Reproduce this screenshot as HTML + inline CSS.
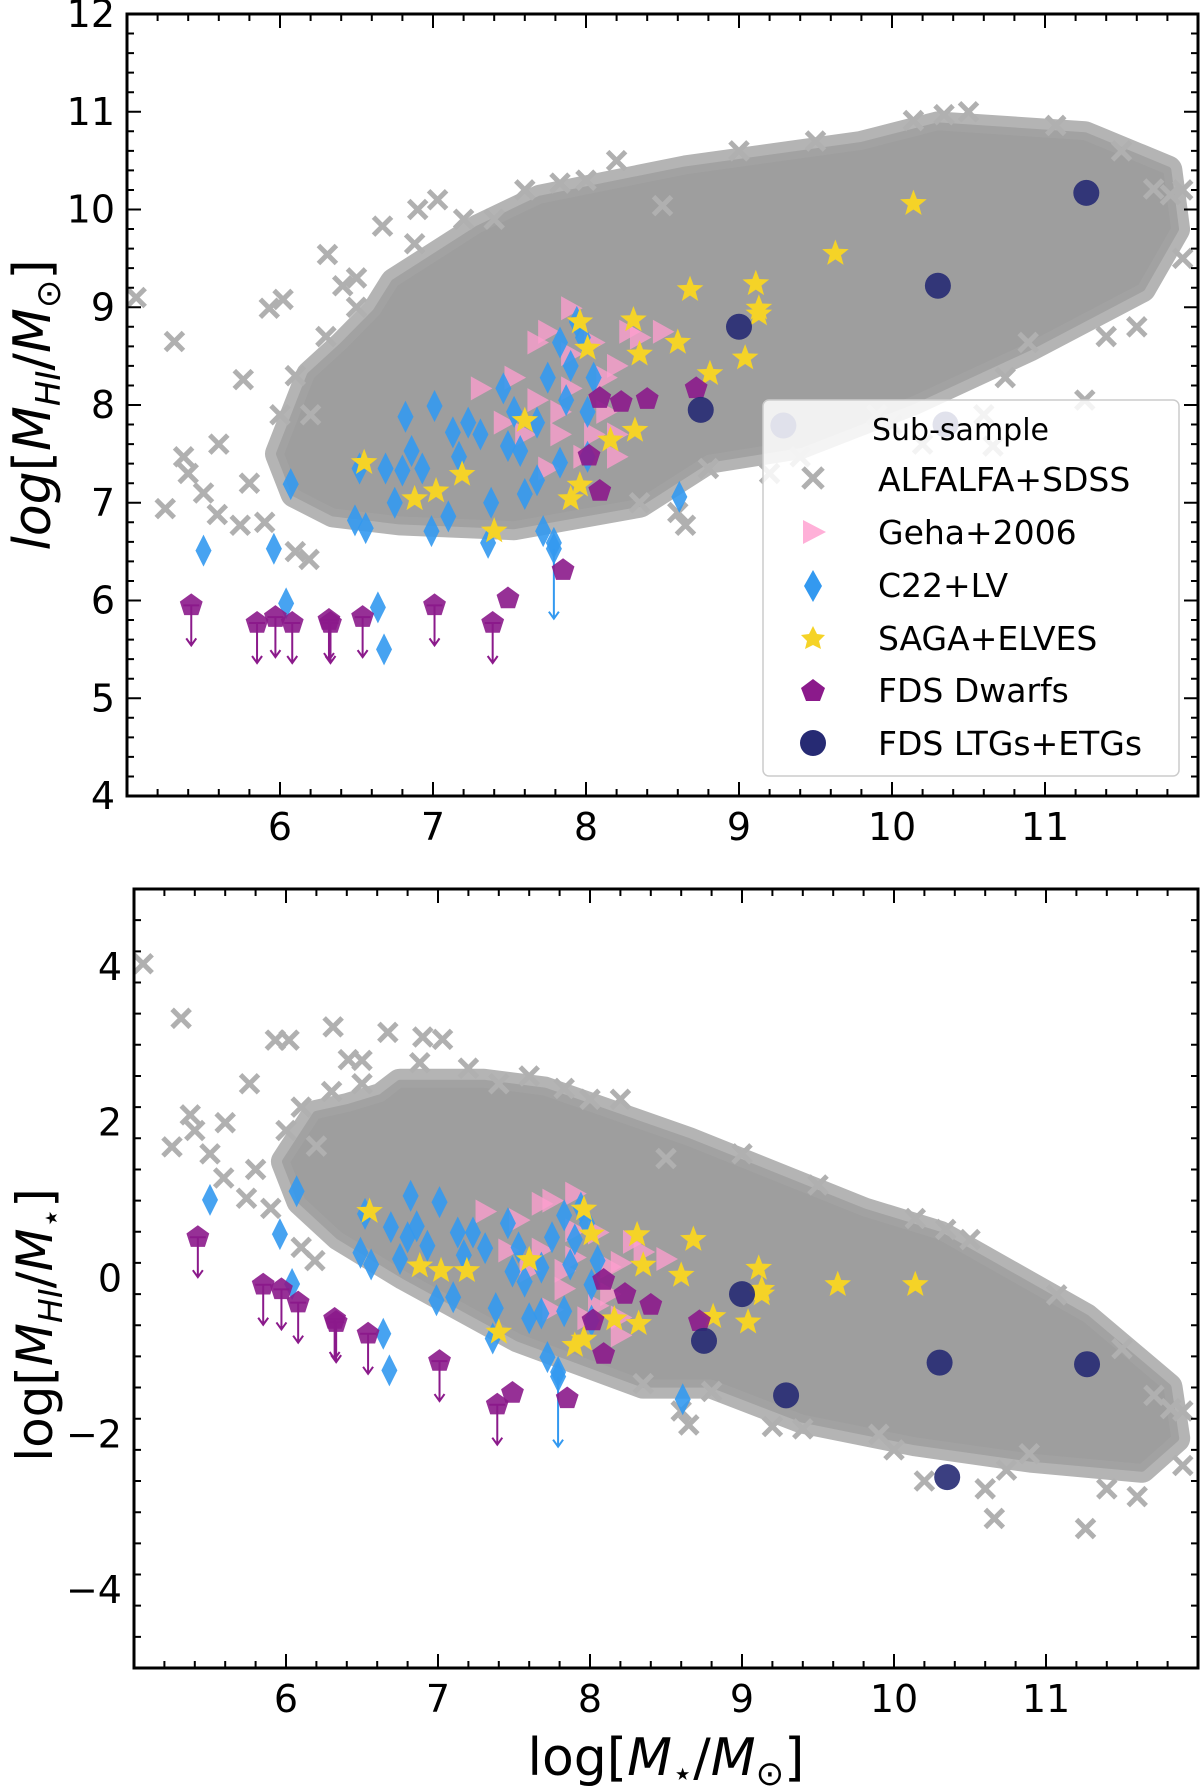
<!DOCTYPE html>
<html><head><meta charset="utf-8">
<style>
html,body{margin:0;padding:0;background:#fff;}
svg{display:block;font-family:"DejaVu Sans","Liberation Sans",sans-serif;}
</style></head>
<body>
<svg id="fig" width="1200" height="1790" viewBox="0 0 1200 1790" xmlns="http://www.w3.org/2000/svg">
<g id="top"></g>
<g id="bot"></g>
</svg>
<script>
// ===== data (top panel: log M* , log MHI). Bottom panel uses log MHI - log M* =====
const cloudX = [6.0,6.2,6.41,6.63,6.75,7.3,7.7,8.65,9.8,10.3,11.26,11.8,11.85,11.63,10.9,10.14,9.4,8.8,8.35,7.53,6.78,6.35,6.1];
const cloudY = [7.5,8.3,8.6,8.95,9.25,9.8,10.1,10.4,10.65,10.85,10.75,10.4,9.8,9.2,8.6,8.05,7.6,7.45,7.0,6.77,6.82,6.9,7.1];
const grayX = [5.06,5.31,5.76,5.93,6.02,6.31,6.67,7.03,6.88,7.83,8.5,10.14,10.34,11.71,11.82,11.07,5.25,5.37,5.59,5.74,6.19,6.41,8.35,8.8,9.4,8.65,10.89,11.26,10.74,10.66,11.4,11.9,10.6,10.2,9.9,6.2,6.5,7.2,7.6,8.2,5.4,5.6,5.8,5.9,6.0,6.1,6.3,6.5,6.1,5.5,6.9,7.4,8.0,9.0,9.5,10.5,11.5,10.0,9.2,8.6,11.9,11.6];
const grayY = [9.1,8.65,8.26,8.99,9.08,9.54,9.83,10.1,9.65,10.27,10.04,10.91,10.97,10.21,10.15,10.86,6.94,7.47,6.88,6.77,6.42,9.22,7.0,7.35,7.47,6.77,8.64,8.05,8.28,7.58,8.7,10.2,7.9,7.6,7.9,7.9,9.3,9.9,10.2,10.5,7.3,7.6,7.2,6.8,7.9,8.3,8.7,9.0,6.5,7.1,10.0,9.9,10.3,10.6,10.7,11.0,10.6,7.8,7.3,6.9,9.5,8.8];
const gehaX = [7.31,7.53,7.68,7.75,7.9,8.05,8.2,8.28,8.35,8.5,8.13,8.2,7.98,7.83,7.68,7.9,7.6,7.46,8.05,8.2,7.75,8.13,7.9,7.83];
const gehaY = [8.17,8.28,8.64,8.75,8.52,8.64,8.4,8.75,8.69,8.75,7.93,7.7,7.47,7.7,8.05,8.17,7.7,7.82,7.7,7.47,7.35,8.28,8.99,7.93];
const c22X = [5.5,5.96,6.07,6.04,6.68,6.64,6.49,6.56,6.52,6.69,6.8,6.82,7.01,6.99,7.1,7.13,7.23,7.31,7.36,7.38,7.46,7.49,7.6,7.68,7.75,7.83,7.87,7.9,7.94,7.98,8.01,8.05,7.72,7.79,8.61,7.83,7.57,6.75,6.93,7.68,8.01,7.17,6.86,7.53];
const c22Y = [6.51,6.53,7.19,5.97,5.5,5.93,6.82,6.74,7.35,7.35,7.33,7.88,7.99,6.71,6.86,7.72,7.82,7.7,6.59,7.0,8.17,7.58,7.09,7.82,8.28,8.64,8.05,8.4,8.85,8.69,7.93,8.28,6.71,6.59,7.06,7.41,7.53,7.0,7.35,7.23,7.47,7.47,7.53,7.93];
const c22LimX = [7.79];
const c22LimY = [6.53];
const sagaX = [6.55,6.88,7.02,7.19,7.4,7.6,7.9,7.96,7.96,8.01,8.16,8.32,8.31,8.35,8.6,8.68,8.81,9.04,9.11,9.13,9.13,9.63,10.14];
const sagaY = [7.41,7.04,7.12,7.29,6.71,7.84,7.04,7.18,8.85,8.58,7.64,7.74,8.87,8.52,8.64,9.18,8.32,8.48,9.24,8.93,8.99,9.55,10.06];
const dwarfX = [7.49,7.85,8.09,8.23,8.4,8.02,8.09,8.72];
const dwarfY = [6.02,6.31,8.07,8.03,8.06,7.48,7.12,8.17];
const dwarfLimX = [5.42,5.85,5.97,6.08,6.32,6.33,6.54,7.01,7.39];
const dwarfLimY = [5.95,5.77,5.83,5.77,5.8,5.77,5.83,5.95,5.77];
const ltgX = [8.75,9.0,10.3,11.27,9.29,10.35];
const ltgY = [7.95,8.8,9.22,10.17,7.79,7.8];
const xTicks = [6,7,8,9,10,11];
const yTicksTop = [4,5,6,7,8,9,10,11,12];
const yTicksBot = [-4,-2,0,2,4];

const NS="http://www.w3.org/2000/svg";
function mk(parent,tag,attrs){const e=document.createElementNS(NS,tag);for(const k in attrs)e.setAttribute(k,attrs[k]);parent.appendChild(e);return e;}

function panel(g, cfg){
  const sx=v=>cfg.x0+(v-5)*(cfg.x1-cfg.x0)/7;
  const sy=v=>cfg.y1-(v-cfg.ymin)*(cfg.y1-cfg.y0)/(cfg.ymax-cfg.ymin);
  const T=cfg.tf;
  const clip=mk(g,'clipPath',{id:cfg.id+'clip'});
  mk(clip,'rect',{x:cfg.x0,y:cfg.y0,width:cfg.x1-cfg.x0,height:cfg.y1-cfg.y0});
  const pg=mk(g,'g',{'clip-path':'url(#'+cfg.id+'clip)'});
  const pts=cloudX.map((x,i)=>sx(x)+','+sy(T(x,cloudY[i]))).join(' ');
  const halo=mk(pg,'polygon',{points:pts,fill:'#a8a8a8',stroke:'#b4b4b4','stroke-width':30,'stroke-linejoin':'round'});
  
  
  const cl=mk(pg,'polygon',{points:pts,fill:'#9e9e9e',stroke:'#a2a2a2','stroke-width':8,'stroke-linejoin':'round'});
  
  
  grayX.forEach((x,i)=>{
    const X=sx(x),Y=sy(T(x,grayY[i])),s=9;
    const p=mk(pg,'path',{d:`M${X-s},${Y-s}L${X+s},${Y+s}M${X-s},${Y+s}L${X+s},${Y-s}`,stroke:'#b0b0b0','stroke-width':5});
    
    
  });
  gehaX.forEach((x,i)=>{
    const X=sx(x),Y=sy(T(x,gehaY[i])),s=12;
    const p=mk(pg,'polygon',{points:`${X-s*0.8},${Y-s} ${X+s},${Y} ${X-s*0.8},${Y+s}`,fill:'#ff9ecf','fill-opacity':0.75});
    
    
  });
  c22X.forEach((x,i)=>{
    const X=sx(x),Y=sy(T(x,c22Y[i]));
    const p=mk(pg,'polygon',{points:`${X},${Y-16} ${X+8},${Y} ${X},${Y+16} ${X-8},${Y}`,fill:'#3399f0','fill-opacity':0.9});
    
    
  });
  c22LimX.forEach((x,i)=>{
    const X=sx(x),Y=sy(T(x,c22LimY[i]));
    const a=mk(pg,'path',{d:`M${X},${Y}V${Y+70}M${X-5},${Y+63}L${X},${Y+70}L${X+5},${Y+63}`,stroke:'#3399f0','stroke-width':2,fill:'none'});
    
    
    const p=mk(pg,'polygon',{points:`${X},${Y-16} ${X+8},${Y} ${X},${Y+16} ${X-8},${Y}`,fill:'#3399f0','fill-opacity':0.9});
    
    
  });
  const star=(X,Y,r)=>{let s='';for(let k=0;k<10;k++){const rr=k%2?r*0.42:r;const a=-Math.PI/2+k*Math.PI/5;s+=(X+rr*Math.cos(a))+','+(Y+rr*Math.sin(a))+' ';}return s;};
  sagaX.forEach((x,i)=>{
    const p=mk(pg,'polygon',{points:star(sx(x),sy(T(x,sagaY[i])),14),fill:'#f5d327'});
    
    
  });
  const pent=(X,Y,r)=>{let s='';for(let k=0;k<5;k++){const a=-Math.PI/2+k*2*Math.PI/5;s+=(X+r*Math.cos(a))+','+(Y+r*Math.sin(a))+' ';}return s;};
  dwarfLimX.forEach((x,i)=>{
    const X=sx(x),Y=sy(T(x,dwarfLimY[i]));
    const a=mk(pg,'path',{d:`M${X-8},${Y}H${X+8}M${X},${Y}V${Y+40}M${X-5},${Y+33}L${X},${Y+40}L${X+5},${Y+33}`,stroke:'#8b1a8b','stroke-width':2,fill:'none'});
    
    
    const p=mk(pg,'polygon',{points:pent(X,Y,12),fill:'#8b1a8b','fill-opacity':0.9});
    
    
  });
  dwarfX.forEach((x,i)=>{
    const p=mk(pg,'polygon',{points:pent(sx(x),sy(T(x,dwarfY[i])),12),fill:'#8b1a8b','fill-opacity':0.9});
    
    
  });
  ltgX.forEach((x,i)=>{
    const p=mk(pg,'circle',{cx:sx(x),cy:sy(T(x,ltgY[i])),r:13,fill:'#262a73','fill-opacity':0.9});
    
    
  });
  const fr=mk(g,'rect',{x:cfg.x0,y:cfg.y0,width:cfg.x1-cfg.x0,height:cfg.y1-cfg.y0,fill:'none',stroke:'#000','stroke-width':3});
  
  
  for(let v=5;v<=12.001;v+=0.2){
    const major=Math.abs(v-Math.round(v))<1e-6;const L=major?14:7;const X=sx(v);
    mk(g,'path',{d:`M${X},${cfg.y1}V${cfg.y1-L}M${X},${cfg.y0}V${cfg.y0+L}`,stroke:'#000','stroke-width':2});
  }
  xTicks.forEach(v=>{
    const t=mk(g,'text',{x:sx(v),y:cfg.y1+44,'text-anchor':'middle','font-size':38});
    t.textContent=v;
    
    
  });
  for(let v=cfg.ymin;v<=cfg.ymax+1e-6;v+=cfg.ymin_step){
    const major=Math.abs(v/cfg.ymaj-Math.round(v/cfg.ymaj))<1e-6;const L=major?14:7;const Y=sy(v);
    mk(g,'path',{d:`M${cfg.x0},${Y}H${cfg.x0+L}M${cfg.x1},${Y}H${cfg.x1-L}`,stroke:'#000','stroke-width':2});
  }
  cfg.yt.forEach(v=>{
    const t=mk(g,'text',{x:cfg.x0-12,y:sy(v)+13,'text-anchor':'end','font-size':38});
    t.textContent=v<0?'\u2212'+(-v):v;
    
    
  });
}
panel(document.getElementById('top'),{id:'t',x0:127,x1:1198,y0:14,y1:796,ymin:4,ymax:12,ymin_step:0.2,ymaj:1,yt:yTicksTop,tf:(x,y)=>y});
panel(document.getElementById('bot'),{id:'b',x0:134,x1:1198,y0:889,y1:1668,ymin:-5,ymax:5,ymin_step:0.4,ymaj:2,yt:yTicksBot,tf:(x,y)=>y-x});
</script>
<svg style="position:absolute;left:0;top:0" width="1200" height="1790" xmlns="http://www.w3.org/2000/svg" font-family="DejaVu Sans, Liberation Sans, sans-serif">
<g>
<rect x="763" y="400" width="416" height="376" rx="6" fill="#fff" fill-opacity="0.85" stroke="#ccc" stroke-width="1.5"/>
<text x="872" y="440" font-size="30">Sub-sample</text>
<g><path d="M803,468L823,488M803,488L823,468" stroke="#b0b0b0" stroke-width="5"/><text x="878" y="491" font-size="33">ALFALFA+SDSS</text></g>
<g><polygon points="803,520 826,532 803,544" fill="#ffb0d8"/><text x="878" y="544" font-size="33">Geha+2006</text></g>
<g><polygon points="813,570 822,586 813,602 804,586" fill="#3399f0"/><text x="878" y="597" font-size="33">C22+LV</text></g>
<g><polygon points="813,626 817,634 825,635 819,641 821,649 813,645 805,649 807,641 801,635 809,634" fill="#f5d327"/><text x="878" y="650" font-size="33">SAGA+ELVES</text></g>
<g><polygon points="813,679 825,688 820,701 806,701 801,688" fill="#8b1a8b"/><text x="878" y="702" font-size="33">FDS Dwarfs</text></g>
<g><circle cx="813" cy="743" r="13" fill="#262a73"/><text x="878" y="755" font-size="33">FDS LTGs+ETGs</text></g>
</g>
<text transform="translate(50,405) rotate(-90)" text-anchor="middle" font-size="52"><tspan font-style="italic">log</tspan>[<tspan font-style="italic">M</tspan><tspan font-style="italic" font-size="34" dy="10">HI</tspan><tspan dy="-10">/</tspan><tspan font-style="italic">M</tspan><tspan font-size="34" dy="10">⊙</tspan><tspan dy="-10">]</tspan></text>
<text transform="translate(52,1325) rotate(-90)" text-anchor="middle" font-size="50">log[<tspan font-style="italic">M</tspan><tspan font-style="italic" font-size="33" dy="10">HI</tspan><tspan dy="-10">/</tspan><tspan font-style="italic">M</tspan><tspan font-size="33" dy="10">⋆</tspan><tspan dy="-10">]</tspan></text>
<text x="666" y="1775" text-anchor="middle" font-size="52">log[<tspan font-style="italic">M</tspan><tspan font-size="34" dy="10">⋆</tspan><tspan dy="-10">/</tspan><tspan font-style="italic">M</tspan><tspan font-size="34" dy="10">⊙</tspan><tspan dy="-10">]</tspan></text>
</svg>
</body></html>
